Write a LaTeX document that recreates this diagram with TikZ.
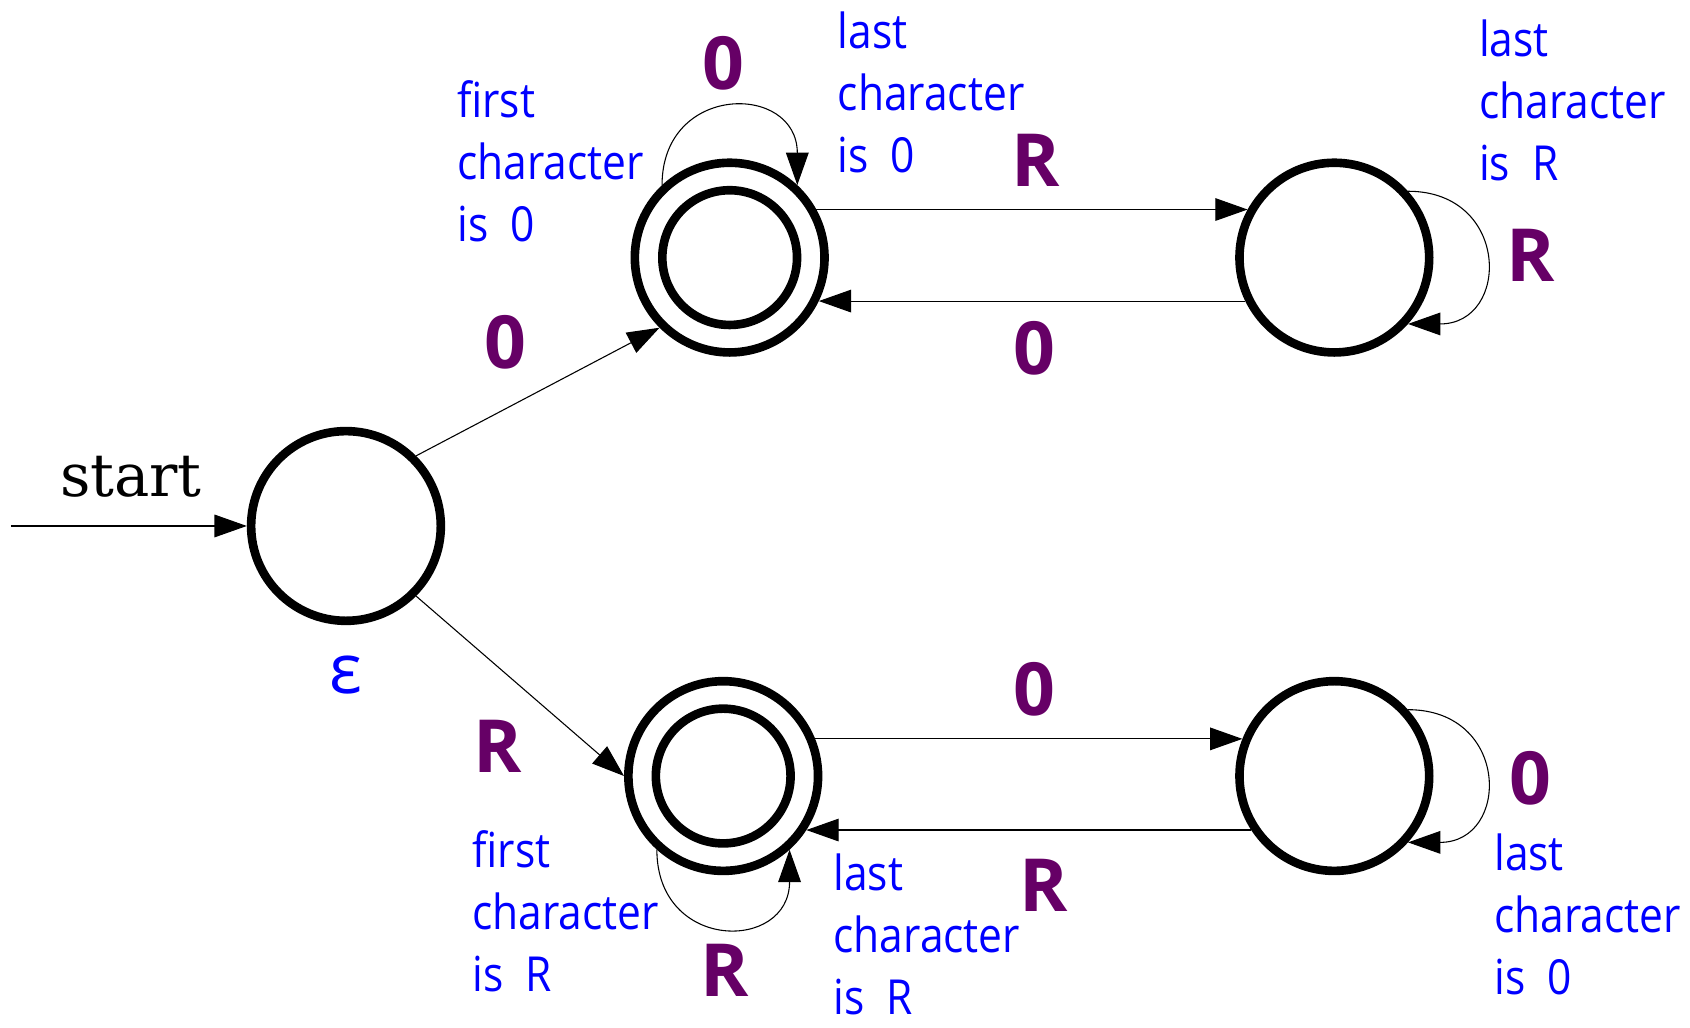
\documentclass[tikz,border=0pt]{standalone}
\usepackage{fontspec}
\setmainfont{DejaVu Serif}
\newfontfamily\notefont[FakeStretch=0.88]{Open Sans}
\newfontfamily\labelfont{Open Sans}
\usetikzlibrary{arrows.meta}
\definecolor{labelpurple}{RGB}{102,0,102}

\tikzset{
  statebox/.style={circle, draw, line width=4pt, minimum size=88pt, inner sep=0pt},
  acceptbox/.style={statebox, path picture={\draw[line width=4pt] (path picture bounding box.center) circle (31.25pt);}},
  trans/.style={line width=0.5pt, -{Triangle[length=15pt,width=10.5pt]}},
  translabel/.style={anchor=base, inner sep=0pt, text=labelpurple, font=\labelfont\fontsize{34}{40}\bfseries},
  notetext/.style={anchor=north west, align=left, inner sep=0pt, text=blue, font=\notefont\fontsize{22.4}{28.75}\selectfont},
}

\begin{document}
\begin{tikzpicture}[x=0.5pt, y=-0.5pt]
\useasboundingbox (0,0) rectangle (1568,953);

% Draw states
\node[statebox] (s) at (321,488) {};
\node[acceptbox] (ta) at (677,239) {};
\node[statebox] (tr) at (1238,239) {};
\node[acceptbox] (ba) at (671,720) {};
\node[statebox] (br) at (1238,720) {};
\node[anchor=base, inner sep=0pt, text=blue, font=\labelfont\fontsize{32}{38}\selectfont] (eps) at (320.5,643) {ε};

% Start arrow
\coordinate (entry) at (10,488);
\node[anchor=base, inner sep=0pt, font=\fontsize{27.5}{33}\selectfont] (startlbl) at (121.5,461) {start};
\draw[trans] (entry) -- (s);

% Draw transitions
\draw[trans] (s.45) -- (ta.225);
\draw[trans] (s.-45) -- (ba.180);
\draw[trans] (ta.29) -- (tr.151);
\draw[trans] (tr.206) -- (ta.-26);
\draw[trans] (ba.22) -- (br.158);
\draw[trans] (br.213) -- (ba.-33);

% Self loops
\draw[trans] (ta.133) .. controls +(0,-95) and +(0,-95) .. (ta.47);
\draw[trans] (tr.42) .. controls +(95,0) and +(95,0) .. (tr.-42);
\draw[trans] (ba.-132) .. controls +(0,95) and +(0,95) .. (ba.-48);
\draw[trans] (br.42) .. controls +(95,0) and +(95,0) .. (br.-42);

% Label transitions
\node[translabel] (lta) at (671,83.5) {0};
\node[translabel] (ltatr) at (960.5,173) {R};
\node[translabel] (ltrta) at (960,347) {0};
\node[translabel] (ltr) at (1420,261.5) {R};
\node[translabel] (lsta) at (469,342) {0};
\node[translabel] (lsba) at (462,717) {R};
\node[translabel] (lbabr) at (960,664) {0};
\node[translabel] (lbrba) at (968,846) {R};
\node[translabel] (lba) at (672,925) {R};
\node[translabel] (lbr) at (1420,746) {0};

% Notes
\node[notetext] (nta) at (424,74) {first\\character\\is~~0};
\node[notetext] (ntal) at (777,11) {last\\character\\is~~0};
\node[notetext] (ntr) at (1372,18) {last\\character\\is~~R};
\node[notetext] (nba) at (438,770) {first\\character\\is~~R};
\node[notetext] (nbal) at (773,792) {last\\character\\is~~R};
\node[notetext] (nbr) at (1386,773) {last\\character\\is~~0};
\end{tikzpicture}
\end{document}
